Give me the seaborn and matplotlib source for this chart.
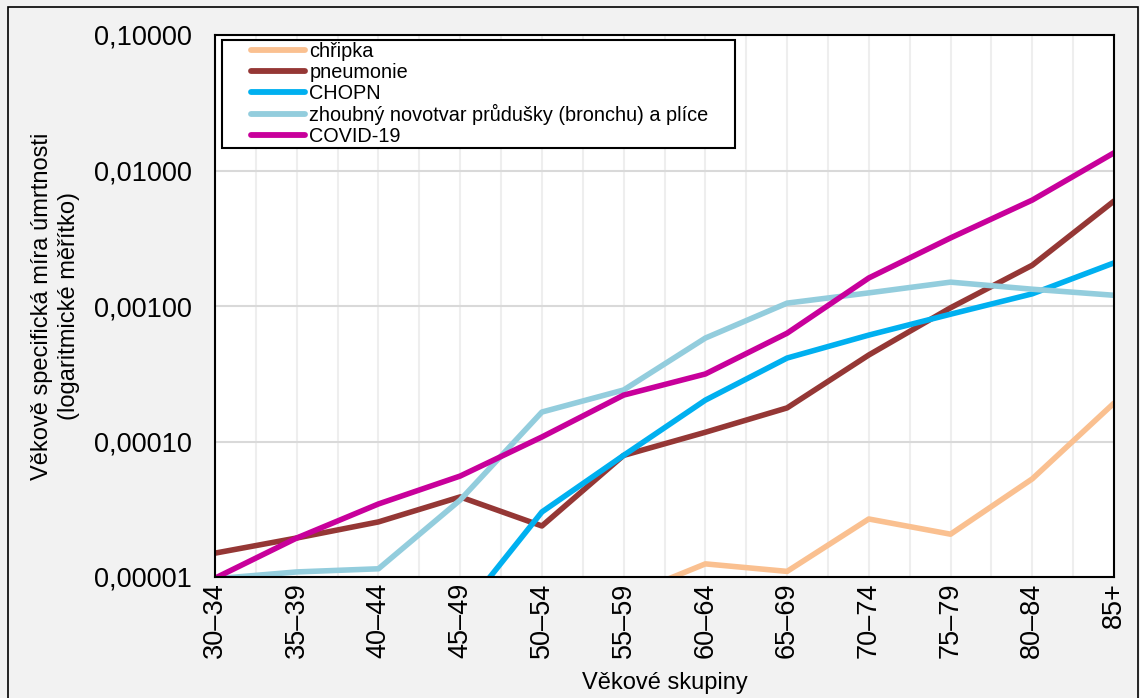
import numpy as np
import pandas as pd
import matplotlib
matplotlib.use("Agg")
import matplotlib.pyplot as plt
from matplotlib.ticker import FixedLocator, FuncFormatter, MultipleLocator, NullLocator
from matplotlib.patches import Rectangle
from matplotlib.legend_handler import HandlerLine2D
import seaborn as sns

categories = ["30–34", "35–39", "40–44", "45–49", "50–54", "55–59",
              "60–64", "65–69", "70–74", "75–79", "80–84", "85+"]

chripka = [np.nan, np.nan, np.nan, np.nan, np.nan, 7.1e-6,
           1.25e-5, 1.1e-5, 2.68e-5, 2.07e-5, 5.3e-5, 1.92e-4]
pneumonie = [1.50e-5, 1.94e-5, 2.55e-5, 3.9e-5, 2.38e-5, 7.9e-5,
             1.17e-4, 1.77e-4, 4.35e-4, 9.7e-4, 2.0e-3, 5.95e-3]
chopn = [np.nan, np.nan, np.nan, 5.3e-6, 3.02e-5, 7.9e-5,
         2.02e-4, 4.13e-4, 6.1e-4, 8.7e-4, 1.23e-3, 2.08e-3]
zhoubny = [9.7e-6, 1.09e-5, 1.15e-5, 3.7e-5, 1.65e-4, 2.4e-4,
           5.8e-4, 1.05e-3, 1.25e-3, 1.5e-3, 1.33e-3, 1.2e-3]
covid = [9.8e-6, 1.94e-5, 3.46e-5, 5.56e-5, 1.08e-4, 2.2e-4,
         3.15e-4, 6.3e-4, 1.61e-3, 3.18e-3, 6.05e-3, 1.35e-2]

series_names = ["chřipka", "pneumonie", "CHOPN",
                "zhoubný novotvar průdušky (bronchu) a plíce", "COVID-19"]
series_values = [chripka, pneumonie, chopn, zhoubny, covid]
colors = ["#FAC090", "#953735", "#00B0F0", "#93CDDD", "#C8009B"]

rows = []
for name, vals in zip(series_names, series_values):
    for i, (c, v) in enumerate(zip(categories, vals)):
        rows.append({"pos": i, "kategorie": c, "serie": name, "hodnota": v})
df = pd.DataFrame(rows).dropna()

sns.set_theme(style="white")
plt.rcParams["font.family"] = ["Liberation Sans", "DejaVu Sans"]


class ShiftedLineHandler(HandlerLine2D):
    """Legend line that leaves an empty gap on its left side."""
    def __init__(self, gap_pt, **kw):
        super().__init__(**kw)
        self.gap_pt = gap_pt

    def create_artists(self, legend, orig_handle, xdescent, ydescent,
                       width, height, fontsize, trans):
        arts = super().create_artists(legend, orig_handle, xdescent, ydescent,
                                      width, height, fontsize, trans)
        for a in arts:
            xd = np.asarray(a.get_xdata(), float)
            a.set_xdata(np.linspace(xd.min() + self.gap_pt, xd.max(), len(xd)))
            a.set_linewidth(4.2)
        return arts


fig = plt.figure(figsize=(11.4, 6.98), dpi=100)
fig.patch.set_facecolor("#F2F2F2")
ax = fig.add_axes([215/1140, 121/698, (1114-215)/1140, (577-35)/698])
ax.set_facecolor("white")

sns.lineplot(data=df, x="pos", y="hodnota", hue="serie", hue_order=series_names,
             palette=dict(zip(series_names, colors)), estimator=None, sort=False,
             linewidth=4.0, ax=ax, legend=True)

ax.set_yscale("log")
ax.set_ylim(1e-5, 1e-1)
ax.set_xlim(0, len(categories) - 1)

ax.yaxis.set_major_locator(FixedLocator([1e-5, 1e-4, 1e-3, 1e-2, 1e-1]))
ax.yaxis.set_minor_locator(NullLocator())
ax.yaxis.set_major_formatter(FuncFormatter(lambda v, p: f"{v:.5f}".replace(".", ",")))

ax.set_xticks(range(len(categories)))
ax.set_xticklabels(categories, rotation=90)
ax.xaxis.set_minor_locator(MultipleLocator(0.5))

ax.grid(True, which="major", axis="y", color="#D9D9D9", linewidth=1.5)
ax.grid(True, which="both", axis="x", color="#EEEEEE", linewidth=1.5)
ax.set_axisbelow(True)

ax.tick_params(axis="both", which="both", length=0, labelsize=19.5, colors="black")
ax.tick_params(axis="x", pad=4)
ax.tick_params(axis="y", pad=17)

for s in ax.spines.values():
    s.set_visible(True)
    s.set_color("black")
    s.set_linewidth(1.5)

ax.set_xlabel("Věkové skupiny", fontsize=17, color="black", labelpad=9.5)
ax.set_ylabel("Věkově specifická míra úmrtnosti\n(logaritmické měřítko)",
              fontsize=17, color="black", labelpad=10, linespacing=1.3)

handles, labels = ax.get_legend_handles_labels()
top = 1 - 5/542
leg = ax.legend(handles, labels, loc="upper left",
                bbox_to_anchor=(7/899, top - 0.4, (735-222)/899, 0.4),
                mode="expand", fontsize=14.3, frameon=True, fancybox=False,
                edgecolor="black", framealpha=1, facecolor="white",
                borderpad=0.12, labelspacing=0.08, handlelength=4.08,
                handletextpad=0.2, borderaxespad=0,
                handler_map={h: ShiftedLineHandler(19.5) for h in handles})
leg.get_frame().set_linewidth(1.5)
for t in leg.get_texts():
    t.set_color("black")

fig.patches.append(Rectangle((8/1140, -0.05), (1138-8)/1140, (698-7)/698 + 0.05,
                             transform=fig.transFigure, fill=False,
                             edgecolor="black", linewidth=1.2))

fig.savefig("out.png", dpi=100, facecolor=fig.get_facecolor())
